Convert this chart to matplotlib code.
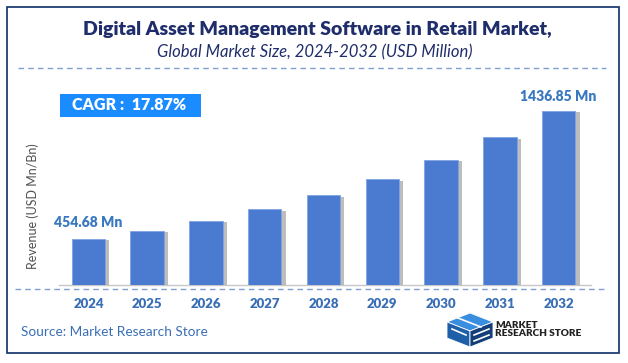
import matplotlib
matplotlib.use("Agg")
import matplotlib.pyplot as plt
import matplotlib.patheffects as pe
from matplotlib.patches import Rectangle, Polygon
from matplotlib.lines import Line2D

years = ["2024", "2025", "2026", "2027", "2028", "2029", "2030", "2031", "2032"]
values = [454.68, 537, 636, 748, 887, 1045, 1236, 1460, 1720]
first_label = "454.68 Mn"
last_label = "1436.85 Mn"
cagr_text = "CAGR :  17.87%"
title = "Digital Asset Management Software in Retail Market,"
subtitle = "Global Market Size, 2024-2032 (USD Million)"
ylabel = "Revenue (USD Mn/Bn)"
source = "Source: Market Research Store"

plt.rcParams['font.family'] = ['Lato', 'DejaVu Sans']

W, H = 628, 363
fig = plt.figure(figsize=(W / 100, H / 100), dpi=100)

def fx(px):
    return px / W

def fy(py):
    return 1 - py / H

# outer frame
fig.patches.append(Rectangle((fx(6.5), fy(353)), fx(612), (353 - 7) / H, transform=fig.transFigure,
                             fill=False, edgecolor='#1f3f73', linewidth=1.3))

fig.text(fx(317), fy(30), title, ha='center', va='center', fontsize=14, fontweight='heavy', color='#1f2d6b')
fig.text(fx(315), fy(52), subtitle, ha='center', va='center', fontsize=12, style='italic', color='#1f2d6b')
fig.add_artist(Line2D([fx(18), fx(606)], [fy(68), fy(68)], transform=fig.transFigure,
                      color='#7f9fd0', linestyle=(0, (4, 3)), linewidth=1))

ax = fig.add_axes([fx(59), fy(285), fx(591 - 59), (285 - 100) / H])
x = list(range(len(years)))
bars = ax.bar(x, values, width=0.57, color='#4a7bd0', edgecolor='#7fa3e3', linewidth=0.6, zorder=3)
for b in bars:
    b.set_path_effects([pe.SimplePatchShadow(offset=(3, -1), shadow_rgbFace='#888888', alpha=0.55), pe.Normal()])

ax.set_xlim(-0.5, 8.55)
ax.set_ylim(0, 1828)
for s in ['top', 'right', 'left']:
    ax.spines[s].set_visible(False)
ax.spines['bottom'].set_color('#c8c8c8')
ax.spines['bottom'].set_linewidth(1)
ax.set_yticks([])
ax.set_xticks(x)
ax.set_xticklabels(years, fontsize=9.5, fontweight='heavy', color='#3a6fb5')
ax.tick_params(axis='x', length=0, pad=9)

ax.annotate(first_label, (x[0], values[0]), xytext=(0, 7), textcoords='offset points', ha='center', va='bottom',
            fontsize=10, fontweight='heavy', color='#3a78c0')
ax.annotate(last_label, (x[-1], values[-1]), xytext=(0, 6), textcoords='offset points', ha='center', va='bottom',
            fontsize=10, fontweight='heavy', color='#3a78c0')

fig.add_artist(Line2D([fx(15), fx(605)], [fy(289), fy(289)], transform=fig.transFigure,
                      color='#7f9fd0', linestyle=(0, (4, 3)), linewidth=1))

fig.text(fx(33), fy(206), ylabel, rotation=90, ha='center', va='center', fontsize=9, color='#505050')

# CAGR box
fig.patches.append(Rectangle((fx(60), fy(117)), fx(141), 23 / H, transform=fig.transFigure,
                             facecolor='#1a8cff', edgecolor='none'))
fig.text(fx(72), fy(105.5), cagr_text, ha='left', va='center', fontsize=11.5, fontweight='heavy', color='white')

fig.text(fx(21), fy(331.5), source, ha='left', va='center', fontsize=9.8, color='#3a6fb5')

# logo approximation (isometric cube)
top_face = [(447, 322), (470, 313), (493, 322), (470, 331)]
left_face = [(447, 322), (470, 331), (470, 347), (447, 338)]
right_face = [(470, 331), (493, 322), (493, 338), (470, 347)]
for poly, col in [(top_face, '#3a8ee0'), (left_face, '#1f5fa8'), (right_face, '#123f7a')]:
    fig.patches.append(Polygon([(fx(a), fy(b)) for a, b in poly], closed=True, transform=fig.transFigure,
                               facecolor=col, edgecolor='white', linewidth=0.6))
# white stripes hinting the letters on the cube faces
for (x0, y0), (x1, y1) in [((458, 318), (481, 327)), ((452, 329), (466, 335)), ((474, 335), (489, 329)),
                           ((474, 341), (489, 335))]:
    fig.add_artist(Line2D([fx(x0), fx(x1)], [fy(y0), fy(y1)], transform=fig.transFigure,
                          color='white', linewidth=1.2))
fig.text(fx(495), fy(325.5), "MARKET", ha='left', va='center', fontsize=7.2, fontweight='heavy', color='#222222')
fig.text(fx(495), fy(334), "RESEARCH STORE", ha='left', va='center', fontsize=7.2, fontweight='heavy',
         color='#222222')

fig.savefig("out.png", dpi=100)
